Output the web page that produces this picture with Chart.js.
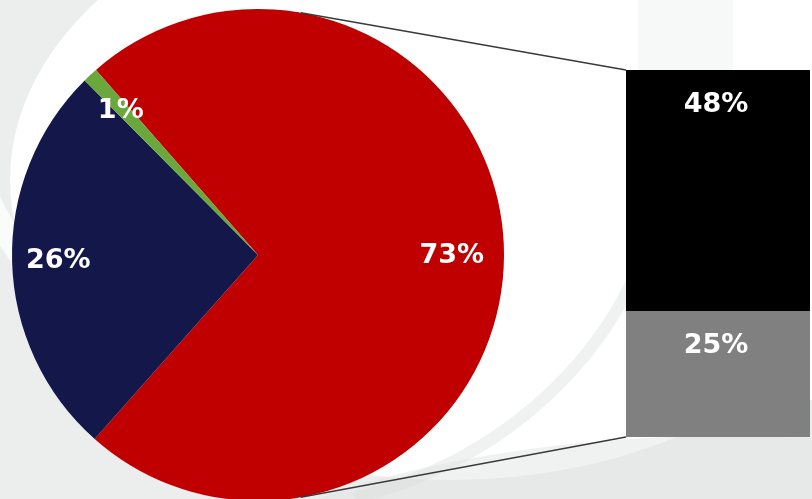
<!DOCTYPE html>
<html>
<head>
<meta charset="utf-8">
<script src="https://cdn.jsdelivr.net/npm/chart.js@4.4.1/dist/chart.umd.min.js"></script>
<style>
html, body { margin: 0; padding: 0; width: 812px; height: 499px; overflow: hidden; background: #fff; }
#pieBox { position: absolute; left: 0; top: 0; width: 812px; height: 510px; }
#barBox { position: absolute; left: 626px; top: 70px; width: 184px; height: 367px; }
</style>
</head>
<body>
<div id="pieBox"><canvas id="pieChart"></canvas></div>
<div id="barBox"><canvas id="barChart"></canvas></div>
<script>
// data (pie: big red slice is split into the bar on the right)
const pieLabels = ['Slice A', 'Slice B', 'Slice C'];
const pieValues = [73, 26, 1];
const pieColors = ['#c00000', '#14174a', '#6aa83c'];

const barLabels = ['Part 2', 'Part 1'];   // bottom first, stacked upwards
const barValues = [25, 48];
const barColors = ['#808080', '#000000'];

const LABEL_FONT = "bold 27px 'DejaVu Sans', sans-serif";

// ==========================================
// 1. BAR (right side stack)
// ==========================================
const barLabelPlugin = {
    id: 'barLabels',
    afterDatasetsDraw: function(chart) {
        const ctx = chart.ctx;
        ctx.save();
        ctx.font = LABEL_FONT;
        ctx.fillStyle = '#ffffff';
        ctx.textAlign = 'center';
        ctx.textBaseline = 'middle';
        chart.data.datasets.forEach((ds, i) => {
            const bar = chart.getDatasetMeta(i).data[0];
            ctx.fillText(ds.data[0] + '%', bar.x - 2, bar.y + 35);
        });
        ctx.restore();
    }
};

const barChart = new Chart(document.getElementById('barChart'), {
    type: 'bar',
    data: {
        labels: [''],
        datasets: barValues.map((v, i) => ({
            label: barLabels[i],
            data: [v],
            backgroundColor: barColors[i],
            borderWidth: 0,
            barPercentage: 1,
            categoryPercentage: 1
        }))
    },
    options: {
        responsive: true, maintainAspectRatio: false, animation: false,
        layout: { padding: 0 },
        scales: {
            x: { stacked: true, display: false },
            y: { stacked: true, display: false, min: 0, max: barValues.reduce((a, b) => a + b, 0) }
        },
        plugins: { legend: { display: false }, tooltip: { enabled: false } }
    },
    plugins: [barLabelPlugin]
});

// ==========================================
// 2. PIE + background + connector lines
// ==========================================
const bgPlugin = {
    id: 'swooshBg',
    beforeDraw: function(chart) {
        const c = chart.ctx, w = chart.width, h = chart.height;
        c.save();
        c.fillStyle = '#eceded';
        c.fillRect(0, 0, w, h);
        c.fillStyle = '#ffffff';
        c.beginPath(); c.ellipse(450, 180, 440, 300, 0, 0, Math.PI * 2); c.fill();
        c.fillRect(450, 0, w - 450, 400);
        // soft swooshes
        c.lineWidth = 24; c.strokeStyle = 'rgba(255,255,255,0.75)';
        c.beginPath(); c.ellipse(470, 60, 520, 420, 0.1, 0.55 * Math.PI, 0.98 * Math.PI); c.stroke();
        c.lineWidth = 12; c.strokeStyle = 'rgba(205,208,208,0.3)';
        c.beginPath(); c.ellipse(250, 120, 420, 390, 0, 0.08 * Math.PI, 0.42 * Math.PI); c.stroke();
        c.fillStyle = 'rgba(226,228,228,0.5)';
        c.beginPath(); c.ellipse(620, 560, 420, 120, -0.08, 0, Math.PI * 2); c.fill();
        c.fillStyle = 'rgba(238,239,239,0.45)';
        c.fillRect(638, 0, 95, 70);
        c.restore();
    }
};

const pieLabelPlugin = {
    id: 'pieLabels',
    afterDatasetsDraw: function(chart) {
        const ctx = chart.ctx;
        ctx.save();
        ctx.font = LABEL_FONT;
        ctx.fillStyle = '#ffffff';
        ctx.textAlign = 'center';
        ctx.textBaseline = 'middle';
        chart.getDatasetMeta(0).data.forEach((arc, i) => {
            const mid = (arc.startAngle + arc.endAngle) / 2;
            const r = arc.outerRadius * 0.8;
            ctx.fillText(pieValues[i] + '%', arc.x + Math.cos(mid) * r - 3, arc.y + Math.sin(mid) * r);
        });
        ctx.restore();
    }
};

const connectorPlugin = {
    id: 'connectors',
    afterDraw: function(chart) {
        const arc = chart.getDatasetMeta(0).data[0];
        const bm0 = barChart.getDatasetMeta(0).data[0];   // bottom (grey)
        const bm1 = barChart.getDatasetMeta(1).data[0];   // top (black)
        const box = document.getElementById('barBox');
        const ox = box.offsetLeft, oy = box.offsetTop;
        const left = ox + bm1.x - bm1.width / 2;
        const a1 = 10 * Math.PI / 180, a2 = 170 * Math.PI / 180;
        const ctx = chart.ctx;
        ctx.save();
        ctx.strokeStyle = '#3a3a3a';
        ctx.lineWidth = 1.5;
        ctx.beginPath();
        ctx.moveTo(arc.x + arc.outerRadius * Math.sin(a1), arc.y - arc.outerRadius * Math.cos(a1));
        ctx.lineTo(left, oy + bm1.y);
        ctx.moveTo(arc.x + arc.outerRadius * Math.sin(a2), arc.y - arc.outerRadius * Math.cos(a2));
        ctx.lineTo(left, oy + bm0.base);
        ctx.stroke();
        ctx.restore();
    }
};

new Chart(document.getElementById('pieChart'), {
    type: 'pie',
    data: {
        labels: pieLabels,
        datasets: [{ data: pieValues, backgroundColor: pieColors, borderWidth: 0 }]
    },
    options: {
        responsive: true, maintainAspectRatio: false, animation: false,
        rotation: -41.2,
        layout: { padding: { top: 9, bottom: 9, left: 12, right: 308 } },
        plugins: { legend: { display: false }, tooltip: { enabled: false } }
    },
    plugins: [bgPlugin, pieLabelPlugin, connectorPlugin]
});
</script>
</body>
</html>
